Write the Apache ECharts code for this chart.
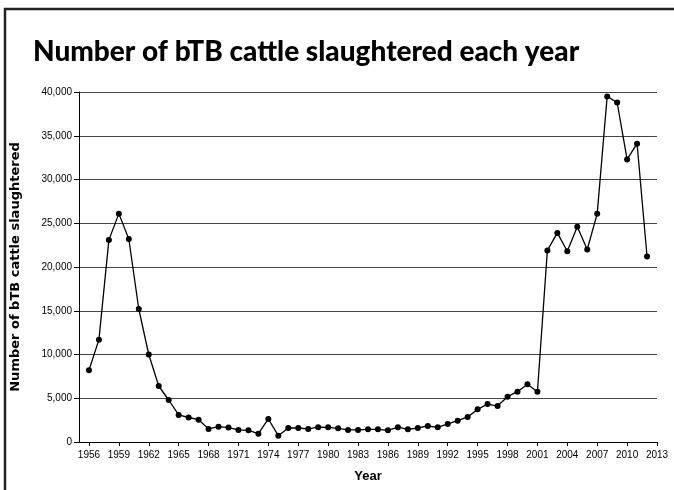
<!DOCTYPE html>
<html>
<head>
<meta charset="utf-8">
<script src="https://cdn.jsdelivr.net/npm/echarts@6/dist/echarts.min.js"></script>
<style>
  html, body { margin: 0; padding: 0; background: #fff; }
  #chart { width: 674px; height: 490px; }
</style>
</head>
<body>
<div id="chart"></div>
<script>
// years with data, 1956 - 2012
var years = [];
for (var y = 1956; y <= 2012; y++) years.push(y);

// cattle slaughtered
var slaughtered = [
  8200, 11700, 23100, 26100, 23200, 15200, 10000, 6400, 4800, 3100,
  2800, 2550, 1500, 1750, 1650, 1380, 1330, 950, 2630, 720,
  1600, 1600, 1500, 1700, 1680, 1560, 1380, 1380, 1450, 1450,
  1330, 1700, 1450, 1600, 1830, 1680, 2060, 2440, 2860, 3730,
  4340, 4110, 5180, 5750, 6590, 5750, 21900, 23900, 21800, 24600,
  22000, 26100, 39500, 38800, 32300, 34100, 21200
];

var tickYears = [1956, 1959, 1962, 1965, 1968, 1971, 1974, 1977, 1980, 1983,
  1986, 1989, 1992, 1995, 1998, 2001, 2004, 2007, 2010, 2013];

var points = years.map(function (yr, i) { return [yr, slaughtered[i]]; });

var chart = echarts.init(document.getElementById('chart'));

var option = {
  animation: false,
  title: {
    text: 'Number of bTB cattle slaughtered each year',
    left: 28,
    top: 33,
    textStyle: {
      fontFamily: 'Lato',
      fontWeight: 900,
      fontSize: 28,
      color: '#000'
    }
  },
  graphic: [{
    type: 'polyline',
    shape: { points: [[5, 490], [5, 9], [674, 9]] },
    style: { stroke: '#222', lineWidth: 2.5, fill: null }
  }],
  grid: { left: 79, right: 17, top: 92, bottom: 48 },
  xAxis: {
    type: 'value',
    min: 1955,
    max: 2013,
    name: 'Year',
    nameLocation: 'middle',
    nameGap: 28,
    nameTextStyle: { fontFamily: 'Liberation Sans', fontWeight: 'bold', fontSize: 13, color: '#000' },
    splitLine: { show: false },
    axisLine: { show: true, lineStyle: { color: '#000', width: 1 } },
    axisTick: { show: true, customValues: tickYears, length: 4, lineStyle: { color: '#000' } },
    axisLabel: {
      customValues: tickYears,
      margin: 8,
      fontFamily: 'Liberation Sans',
      fontSize: 10,
      color: '#000',
      formatter: function (v) { return String(v); }
    }
  },
  yAxis: {
    type: 'value',
    min: 0,
    max: 40000,
    interval: 5000,
    name: 'Number of bTB cattle slaughtered',
    nameLocation: 'middle',
    nameGap: 57,
    nameTextStyle: { fontFamily: 'DejaVu Sans', fontWeight: 'bold', fontSize: 13, color: '#000' },
    axisLine: { show: true, lineStyle: { color: '#000', width: 1 } },
    axisTick: { show: true, length: 5, lineStyle: { color: '#000' } },
    splitLine: { show: true, lineStyle: { color: '#444', width: 1 } },
    axisLabel: {
      margin: 7,
      fontFamily: 'Liberation Sans',
      fontSize: 10,
      color: '#000',
      formatter: function (v) { return v.toLocaleString('en-US'); }
    }
  },
  series: [{
    type: 'line',
    data: points,
    symbol: 'circle',
    symbolSize: 6,
    lineStyle: { color: '#000', width: 1.3 },
    itemStyle: { color: '#000' }
  }]
};

chart.setOption(option);
</script>
</body>
</html>
